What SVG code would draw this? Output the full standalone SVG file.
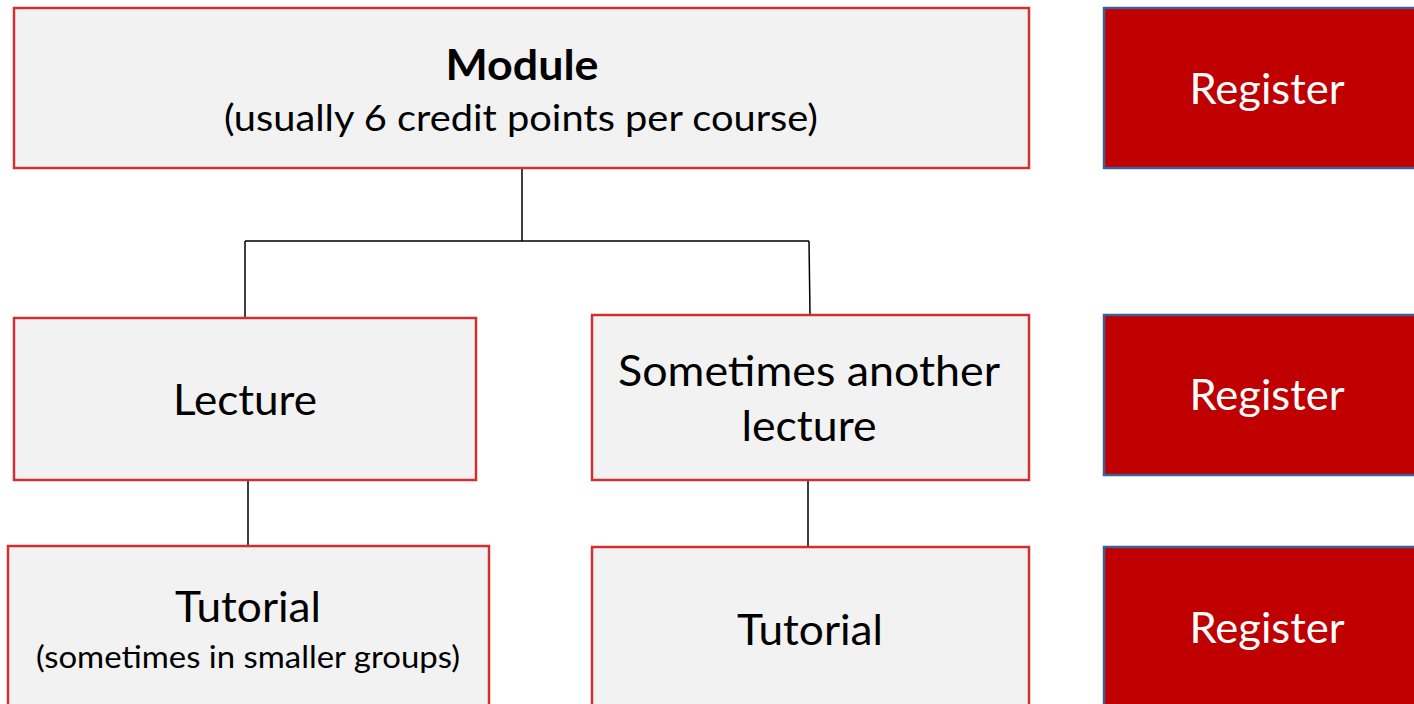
<svg xmlns="http://www.w3.org/2000/svg" width="1414" height="704" viewBox="0 0 1414 704">
<style>
.box{fill:#f2f2f2;stroke:#d03030;stroke-width:2.5}
.reg{fill:#c00000;stroke:#3d5f96;stroke-width:2.5}
.conn{stroke:#000;stroke-width:1.5;fill:none}
text{font-family:Lato,"Open Sans","Liberation Sans",sans-serif;text-anchor:middle;fill:#000}
.big{font-size:42px}
.mid{font-size:36px}
.small{font-size:30px}
.w{fill:#fff}
</style>
<rect width="1414" height="704" fill="#fff"/>
<g id="connectors">
<path class="conn" d="M522 168 V241 M245 241 H809 M245 241 V318 M809 241 L810 314 M248 480 V545 M808 480 V546"/>
</g>
<g id="module">
<rect class="box" x="14" y="8" width="1015" height="160"/>
<text class="big" x="522" y="80" font-weight="bold" textLength="153" lengthAdjust="spacingAndGlyphs">Module</text>
<text class="mid" x="521" y="131" textLength="594" lengthAdjust="spacingAndGlyphs">(usually 6 credit points per course)</text>
</g>
<g id="lecture">
<rect class="box" x="14" y="318" width="462" height="162"/>
<text class="big" x="245" y="415" textLength="144" lengthAdjust="spacingAndGlyphs">Lecture</text>
</g>
<g id="another-lecture">
<rect class="box" x="592" y="315" width="437" height="165"/>
<text class="big" x="809" y="386" textLength="382" lengthAdjust="spacingAndGlyphs">Sometimes another</text>
<text class="big" x="809" y="441" textLength="135" lengthAdjust="spacingAndGlyphs">lecture</text>
</g>
<g id="tutorial-left">
<rect class="box" x="8" y="546" width="481" height="170"/>
<text class="big" x="248" y="622" textLength="146" lengthAdjust="spacingAndGlyphs">Tutorial</text>
<text class="small" x="248" y="668" textLength="424" lengthAdjust="spacingAndGlyphs">(sometimes in smaller groups)</text>
</g>
<g id="tutorial-right">
<rect class="box" x="592" y="547" width="437" height="170"/>
<text class="big" x="810" y="645" textLength="146" lengthAdjust="spacingAndGlyphs">Tutorial</text>
</g>
<g id="register-1">
<rect class="reg" x="1104" y="8" width="320" height="160"/>
<text class="big w" x="1267" y="104" textLength="155" lengthAdjust="spacingAndGlyphs">Register</text>
</g>
<g id="register-2">
<rect class="reg" x="1104" y="315" width="320" height="160"/>
<text class="big w" x="1267" y="410" textLength="155" lengthAdjust="spacingAndGlyphs">Register</text>
</g>
<g id="register-3">
<rect class="reg" x="1104" y="547" width="320" height="170"/>
<text class="big w" x="1267" y="643" textLength="155" lengthAdjust="spacingAndGlyphs">Register</text>
</g>
</svg>
